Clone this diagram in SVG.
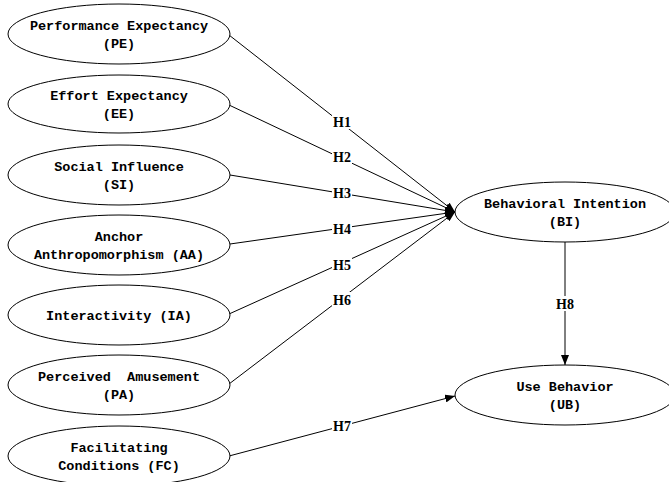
<svg xmlns="http://www.w3.org/2000/svg" width="669" height="482" viewBox="0 0 669 482">
<style>
.n ellipse{fill:#fff;stroke:#000;stroke-width:1}
.n text{font-family:"Liberation Mono","DejaVu Sans Mono",monospace;font-weight:bold;font-size:13.5px;text-anchor:middle;fill:#000}
.c line{stroke:#000;stroke-width:1;marker-end:url(#a)}
.l rect{fill:#fff}
.l text{font-family:"Liberation Serif","DejaVu Serif",serif;font-weight:bold;font-size:14px;text-anchor:middle;fill:#000}
</style>
<defs>
<marker id="a" viewBox="0 0 10 8" refX="10" refY="4" markerWidth="10" markerHeight="8" markerUnits="userSpaceOnUse" orient="auto">
<path d="M0,0L10,4L0,8z" fill="#000"/>
</marker>
</defs>
<rect width="669" height="482" fill="#fff"/>
<g class="c" id="connectors">
<line x1="229" y1="35" x2="455" y2="212"/>
<line x1="229" y1="105" x2="455" y2="212"/>
<line x1="230" y1="175" x2="455" y2="212"/>
<line x1="230" y1="244" x2="455" y2="212"/>
<line x1="229" y1="314" x2="455" y2="212"/>
<line x1="229" y1="384" x2="455" y2="212"/>
<line x1="229" y1="456" x2="455" y2="396"/>
<line x1="565" y1="242" x2="565" y2="365"/>
</g>
<g class="l" id="labels">
<rect x="332" y="114" width="20" height="15"/><text x="342" y="127">H1</text>
<rect x="332" y="149" width="20" height="15"/><text x="342" y="162">H2</text>
<rect x="332" y="185" width="20" height="15"/><text x="342" y="198">H3</text>
<rect x="332" y="221" width="20" height="15"/><text x="342" y="234">H4</text>
<rect x="332" y="257" width="20" height="15"/><text x="342" y="270">H5</text>
<rect x="332" y="292" width="20" height="15"/><text x="342" y="305">H6</text>
<rect x="332" y="418" width="20" height="15"/><text x="342" y="431">H7</text>
<rect x="555" y="296" width="20" height="15"/><text x="565" y="309">H8</text>
</g>
<g class="n" id="PE"><ellipse cx="119" cy="34" rx="111" ry="30"/><text x="119" y="30">Performance Expectancy</text><text x="119" y="48">(PE)</text></g>
<g class="n" id="EE"><ellipse cx="119" cy="104" rx="111" ry="29"/><text x="119" y="100">Effort Expectancy</text><text x="119" y="118">(EE)</text></g>
<g class="n" id="SI"><ellipse cx="119" cy="175" rx="111" ry="30"/><text x="119" y="171">Social Influence</text><text x="119" y="189">(SI)</text></g>
<g class="n" id="AA"><ellipse cx="119" cy="245" rx="111" ry="30"/><text x="119" y="241">Anchor</text><text x="119" y="259">Anthropomorphism (AA)</text></g>
<g class="n" id="IA"><ellipse cx="119" cy="315" rx="111" ry="30"/><text x="119" y="320">Interactivity (IA)</text></g>
<g class="n" id="PA"><ellipse cx="119" cy="385" rx="111" ry="30"/><text x="119" y="381" xml:space="preserve">Perceived  Amusement</text><text x="119" y="399">(PA)</text></g>
<g class="n" id="FC"><ellipse cx="119" cy="456" rx="111" ry="30"/><text x="119" y="452">Facilitating</text><text x="119" y="470">Conditions (FC)</text></g>
<g class="n" id="BI"><ellipse cx="565" cy="212" rx="110" ry="30"/><text x="565" y="208">Behavioral Intention</text><text x="565" y="226">(BI)</text></g>
<g class="n" id="UB"><ellipse cx="565" cy="395" rx="110" ry="30"/><text x="565" y="391">Use Behavior</text><text x="565" y="409">(UB)</text></g>
</svg>
